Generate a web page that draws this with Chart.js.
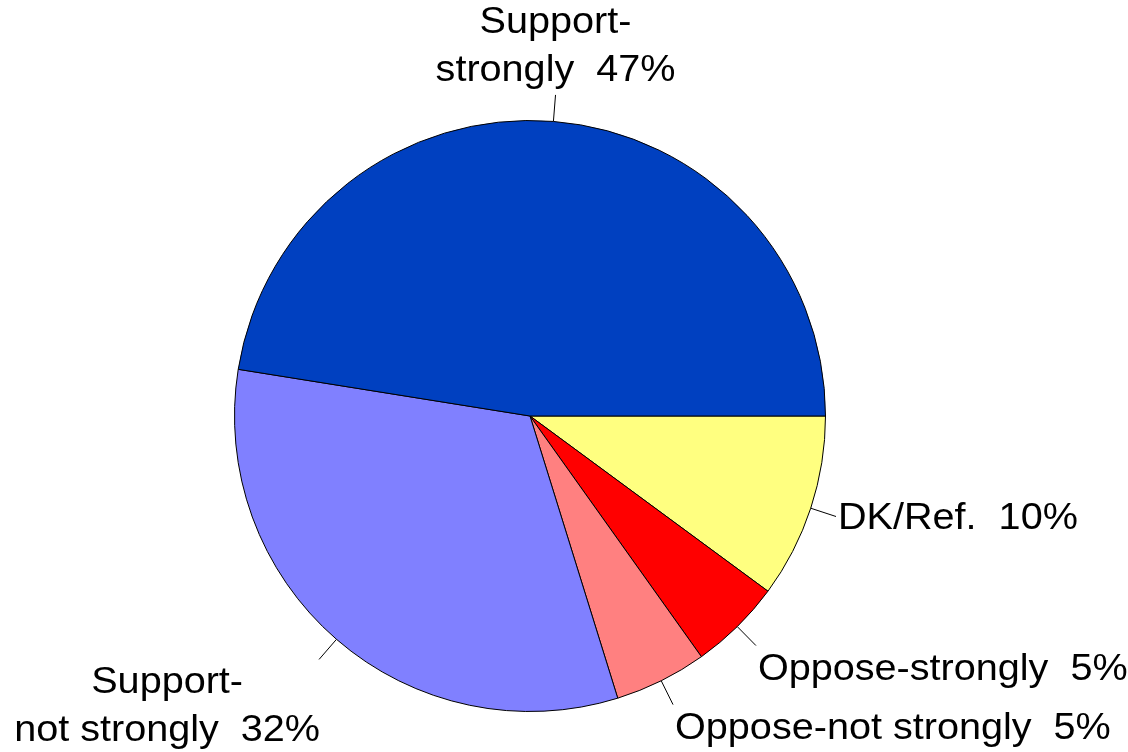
<!DOCTYPE html>
<html>
<head>
<meta charset="utf-8">
<script src="https://cdn.jsdelivr.net/npm/chart.js@4/dist/chart.umd.min.js"></script>
<style>
  html, body { margin: 0; padding: 0; background: #ffffff; }
  canvas { display: block; }
</style>
</head>
<body>
<canvas id="pie" width="1128" height="752"></canvas>
<script>
// slices, listed clockwise from 3 o'clock
var categories = ["DK/Ref.", "Oppose-strongly", "Oppose-not strongly", "Support-\nnot strongly", "Support-\nstrongly"];
var percents = [10, 5, 5, 32, 47];
var colours = ["#ffff80", "#ff0000", "#ff8080", "#8080ff", "#0040c0"];

var FONT_SIZE = 37;
var LINE_HEIGHT = 48;
var X_STRETCH = 1.07;

// leader lines and labels outside the pie, placed from each arc's own geometry
var pieLabels = {
	id: "pieLabels",
	afterDatasetsDraw: function(chart) {
		var ctx = chart.ctx;
		var arcs = chart.getDatasetMeta(0).data;
		ctx.save();
		ctx.strokeStyle = "#000";
		ctx.lineWidth = 1;
		ctx.fillStyle = "#000";
		ctx.font = FONT_SIZE + "px 'Liberation Sans', Arial, sans-serif";
		arcs.forEach(function(arc, i) {
			var p = arc.getProps(["x", "y", "startAngle", "endAngle", "outerRadius"], true);
			var mid = (p.startAngle + p.endAngle) / 2;
			var c = Math.cos(mid), s = Math.sin(mid);
			var x0 = p.x + c * p.outerRadius, y0 = p.y + s * p.outerRadius;
			var x1 = p.x + c * p.outerRadius * 1.09, y1 = p.y + s * p.outerRadius * 1.09;
			ctx.beginPath();
			ctx.moveTo(x0, y0);
			ctx.lineTo(x1, y1);
			ctx.stroke();

			var lines = (categories[i] + "  " + percents[i] + "%").split("\n");
			var blockW = 0;
			lines.forEach(function(line) {
				blockW = Math.max(blockW, ctx.measureText(line).width * X_STRETCH);
			});
			// centre of the text block, lines are centred inside it
			var cx;
			if (c > 0.3) cx = x1 + 2 + blockW / 2;
			else if (c < -0.3) cx = x1 + 1 - blockW / 2;
			else cx = x1;
			var first;
			if (s < -0.5) {
				// label above the pie
				first = y1 - FONT_SIZE * 0.37 - (lines.length - 1) * LINE_HEIGHT;
			} else if (s > 0.5) {
				first = y1 + FONT_SIZE * 0.92;
			} else {
				first = y1 + FONT_SIZE * 0.35 - (lines.length - 1) * LINE_HEIGHT / 2;
			}
			lines.forEach(function(line, k) {
				ctx.save();
				ctx.translate(cx, first + k * LINE_HEIGHT);
				ctx.scale(X_STRETCH, 1);
				ctx.textAlign = "center";
				ctx.textBaseline = "alphabetic";
				ctx.fillText(line, 0, 0);
				ctx.restore();
			});
		});
		ctx.restore();
	}
};

new Chart(document.getElementById("pie"), {
	type: "pie",
	data: {
		labels: categories,
		datasets: [{
			data: percents,
			backgroundColor: colours,
			borderColor: "#000000",
			borderWidth: 1
		}]
	},
	options: {
		responsive: false,
		animation: false,
		rotation: 90,
		layout: { padding: { left: 234, top: 120, right: 302, bottom: 40 } },
		plugins: {
			legend: { display: false },
			tooltip: { enabled: false }
		}
	},
	plugins: [pieLabels]
});
</script>
</body>
</html>
